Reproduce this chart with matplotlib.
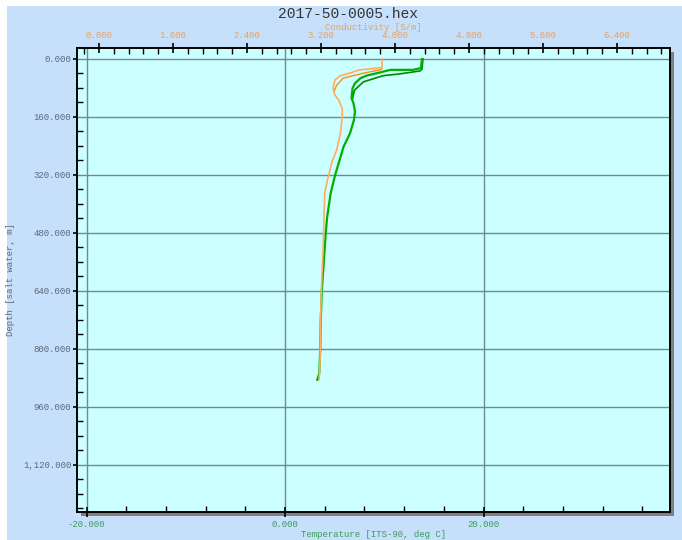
import matplotlib
matplotlib.use("Agg")
import matplotlib.pyplot as plt
from matplotlib.patches import Rectangle
from matplotlib.ticker import MultipleLocator, FuncFormatter

plt.rcParams['font.family'] = ['Liberation Mono', 'DejaVu Sans Mono']

# perfil de bajada (downcast)
prof_temp = [0, 25, 30, 30, 37, 46, 53, 67, 81, 108, 122, 145, 168, 205, 242, 288,
             320, 370, 435, 481, 582, 642, 720, 801, 867, 885]
temp = [13.8, 13.7, 12.9, 10.6, 9.6, 8.2, 7.6, 7.05, 6.8, 6.7, 6.9, 7.05, 6.95, 6.55,
        5.9, 5.4, 5.05, 4.6, 4.25, 4.1, 3.85, 3.7, 3.6, 3.55, 3.45, 3.25]

# segundo trazo en la termoclina
prof_temp2 = [0, 28, 33, 41, 46, 63, 86, 110]
temp2 = [13.9, 13.8, 13.6, 11.6, 9.9, 7.9, 7.0, 6.8]

prof_cond = [0, 24, 30, 39, 46, 58, 81, 99, 113, 136, 159, 205, 251, 283, 334, 370,
             462, 508, 600, 669, 738, 830, 885]
cond = [3.86, 3.86, 3.62, 3.51, 3.41, 3.35, 3.33, 3.35, 3.39, 3.43, 3.43, 3.41, 3.37,
        3.32, 3.27, 3.24, 3.23, 3.225, 3.21, 3.20, 3.195, 3.19, 3.18]

prof_cond2 = [26, 30, 39, 46, 53, 72, 90]
cond2 = [3.86, 3.84, 3.66, 3.55, 3.44, 3.37, 3.34]

W, H = 682, 540
fig = plt.figure(figsize=(W / 100, H / 100), dpi=100)
fig.patch.set_facecolor("white")

# fondo azul con margen blanco arriba/izquierda
fig.patches.append(Rectangle((7 / W, 0), 1 - 7 / W, 1 - 6 / H, transform=fig.transFigure,
                             facecolor="#c6e0fc", edgecolor="none", zorder=-10))

left, right, top, bottom = 77, 669.5, 48, 512
pos = [left / W, 1 - bottom / H, (right - left) / W, (bottom - top) / H]

# sombra gris
fig.patches.append(Rectangle((pos[0] + 4 / W, pos[1] - 4 / H), pos[2], pos[3],
                             transform=fig.transFigure, facecolor="#808080",
                             edgecolor="none", zorder=-5))

ax = fig.add_axes(pos)
ax.set_facecolor("#ccffff")
ax.set_xlim(-20.96, 38.74)
ax.set_ylim(1249.7, -30.3)

ax.xaxis.set_major_locator(MultipleLocator(20))
ax.xaxis.set_minor_locator(MultipleLocator(4))
ax.yaxis.set_major_locator(MultipleLocator(160))
ax.yaxis.set_minor_locator(MultipleLocator(40))
fmt = FuncFormatter(lambda v, p: "{:,.3f}".format(v))
ax.xaxis.set_major_formatter(fmt)
ax.yaxis.set_major_formatter(fmt)

ax.grid(True, which="major", color="#6e8c8c", linewidth=1.0)
ax.set_axisbelow(True)

ax.tick_params(axis="x", which="major", direction="inout", length=7, width=1.2,
               labelsize=6.5, labelcolor="#3c9c5a", pad=2)
ax.tick_params(axis="x", which="minor", direction="in", length=4, width=1)
ax.tick_params(axis="y", which="major", direction="out", length=3, width=1.2,
               labelsize=6.5, labelcolor="#5c6878", pad=1)
ax.tick_params(axis="y", which="minor", direction="in", length=4, width=1)
ax.tick_params(top=False, right=False)
for s in ax.spines.values():
    s.set_linewidth(1.2)

ax.plot(temp2, prof_temp2, color="#008800", linewidth=1.2)
ax.plot(temp, prof_temp, color="#00b000", linewidth=1.6)

ax.set_xlabel("Temperature [ITS-90, deg C]", fontsize=6.5, color="#3c9c5a", labelpad=1)
ax.set_ylabel("Depth [salt water, m]", fontsize=6.5, color="#5c6878")
ax.yaxis.set_label_coords(-0.105, 0.5)

ax2 = ax.twiny()
ax2.set_xlim(0.562, 6.968)
ax2.xaxis.set_major_locator(MultipleLocator(0.8))
ax2.xaxis.set_minor_locator(MultipleLocator(0.16))
ax2.xaxis.set_major_formatter(FuncFormatter(lambda v, p: "{:.3f}".format(v)))
ax2.tick_params(axis="x", which="major", direction="inout", length=7, width=1.2,
                labelsize=6.5, labelcolor="#f0a050", pad=2)
ax2.tick_params(axis="x", which="minor", direction="in", length=4, width=1)
for s in ax2.spines.values():
    s.set_linewidth(1.2)

ax2.plot(cond2, prof_cond2, color="#ff8c1a", linewidth=1.0)
ax2.plot(cond, prof_cond, color="#ffad60", linewidth=1.2)
ax2.set_xlabel("Conductivity [S/m]", fontsize=6.5, color="#f0a050", labelpad=1)

fig.text(348 / W, 1 - 14 / H, "2017-50-0005.hex", ha="center", va="center",
         fontsize=10.5, color="#333333")

fig.savefig("out.png", dpi=100)
